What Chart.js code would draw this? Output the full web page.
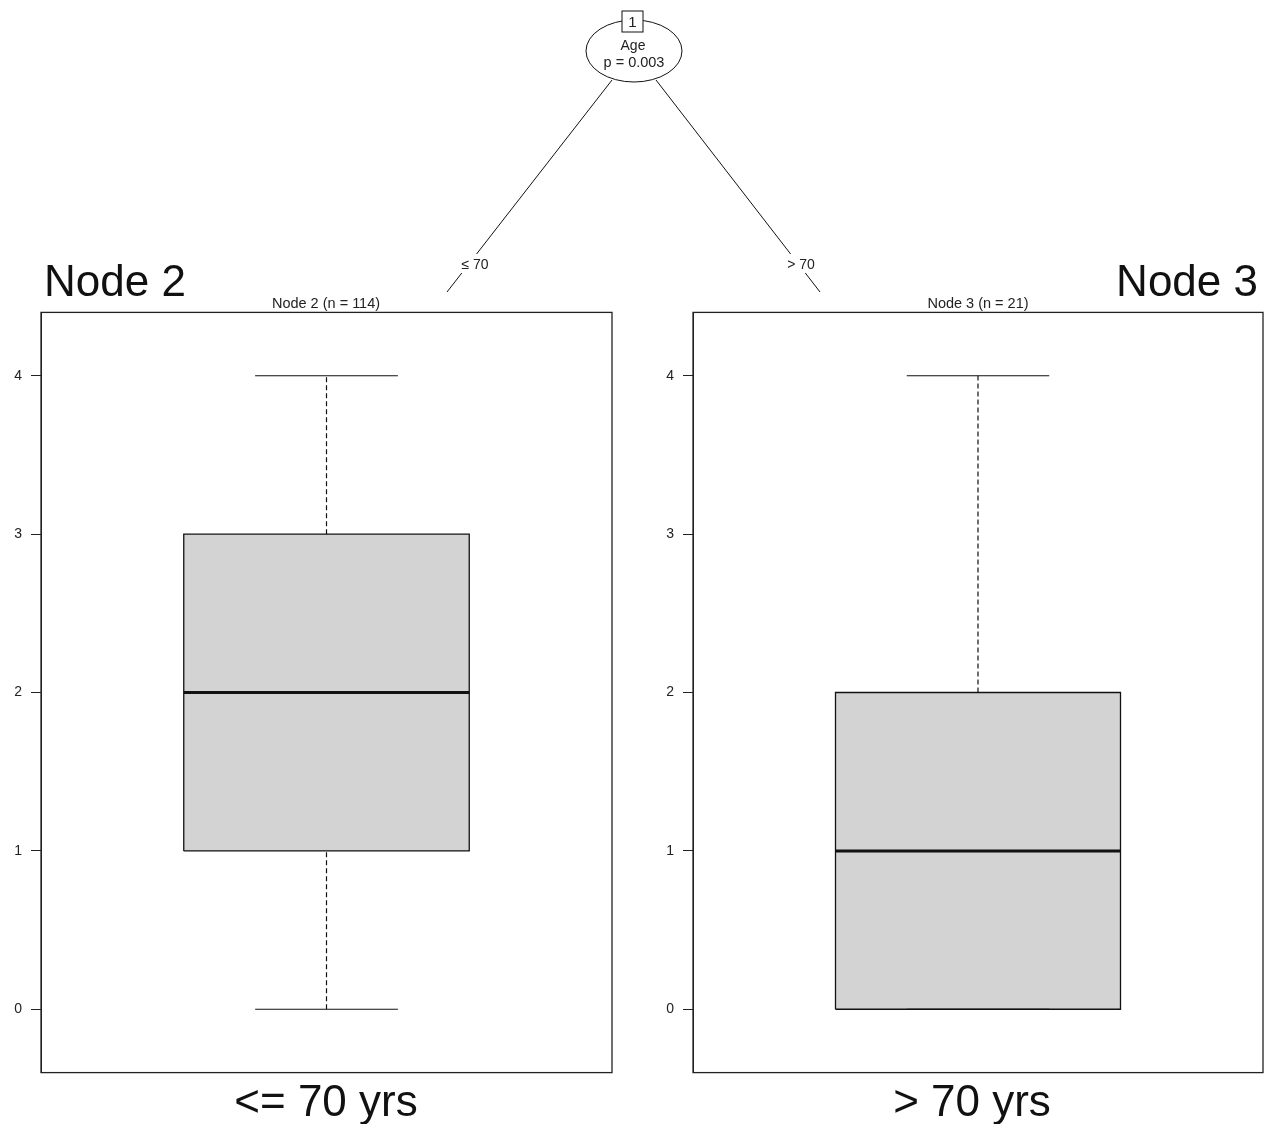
<!DOCTYPE html>
<html>
<head>
<meta charset="utf-8">
<script src="https://cdn.jsdelivr.net/npm/chart.js@4.4.0/dist/chart.umd.min.js"></script>
<style>
  html, body { margin: 0; padding: 0; background: #fff; overflow: hidden; width: 1266px; height: 1124px; }
  .abs { position: absolute; }
  .big { position: absolute; font-family: "Liberation Sans", Arial, sans-serif; font-size: 44px; color: #111; line-height: 1; white-space: nowrap; }
  .ttl { position: absolute; font-family: "Liberation Sans", Arial, sans-serif; font-size: 14.5px; color: #222; line-height: 1; white-space: nowrap; transform: translateX(-50%); }
</style>
</head>
<body>
<canvas id="c0" class="abs" width="620" height="795" style="left:0px;top:295px;width:620px;height:795px"></canvas>
<canvas id="c1" class="abs" width="614" height="795" style="left:652px;top:295px;width:614px;height:795px"></canvas>

<div class="big" style="left:44px;top:259px">Node 2</div>
<div class="big" style="right:8px;top:259px">Node 3</div>
<div id="t0" class="ttl" style="left:326px;top:296px"></div>
<div id="t1" class="ttl" style="left:978px;top:296px"></div>
<div id="g0" class="big" style="left:326px;top:1079px;transform:translateX(-50%)"></div>
<div id="g1" class="big" style="left:972px;top:1079px;transform:translateX(-50%)"></div>

<svg class="abs" style="left:0;top:0;pointer-events:none" width="1266" height="300" xmlns="http://www.w3.org/2000/svg">
  <g stroke="#111" stroke-width="1" fill="none">
    <line x1="612" y1="80" x2="447" y2="292"/>
    <line x1="656" y1="80" x2="820" y2="292"/>
    <ellipse cx="634" cy="51" rx="48" ry="31" fill="#fff"/>
    <rect x="622" y="11" width="21" height="21" fill="#fff"/>
  </g>
  <rect x="455" y="254" width="40" height="19" fill="#fff"/>
  <rect x="782" y="254" width="40" height="19" fill="#fff"/>
  <g font-family="Liberation Sans, Arial, sans-serif" font-size="14" fill="#222" text-anchor="middle">
    <text x="632.5" y="27" font-size="15" id="nodeId"></text>
    <text x="633" y="50" id="splitVar"></text>
    <text x="634" y="67" font-size="14.5" id="pval"></text>
    <text x="475" y="269" id="s0"></text>
    <text x="801" y="269" id="s1"></text>
  </g>
</svg>

<script>
// ---- data ----
const nodeNames = ['Node 2', 'Node 3'];
const nodeN = [114, 21];
const whiskerLow = [0, 0];
const q1 = [1, 0];
const median = [2, 1];
const q3 = [3, 2];
const whiskerHigh = [4, 4];
const yTicks = [0, 1, 2, 3, 4];
const splitVariable = 'Age';
const splitP = 'p = 0.003';
const rootId = '1';
const splitLabels = ['\u2264 70', '> 70'];
const groupLabels = ['<= 70 yrs', '> 70 yrs'];

document.getElementById('nodeId').textContent = rootId;
document.getElementById('splitVar').textContent = splitVariable;
document.getElementById('pval').textContent = splitP;
document.getElementById('s0').textContent = splitLabels[0];
document.getElementById('s1').textContent = splitLabels[1];

const borderPlugin = {
  id: 'panelBorder',
  afterDraw(chart) {
    const a = chart.chartArea, ctx = chart.ctx;
    ctx.save();
    ctx.strokeStyle = '#222';
    ctx.lineWidth = 1.3;
    ctx.strokeRect(a.left, a.top, a.right - a.left, a.bottom - a.top);
    ctx.restore();
  }
};

function seg(data, opts) {
  return Object.assign({ data, showLine: true, pointRadius: 0, borderColor: '#111', borderWidth: 1.2, fill: false, order: 0 }, opts || {});
}

function makePanel(i, padRight) {
  document.getElementById('t' + i).textContent = nodeNames[i] + ' (n = ' + nodeN[i] + ')';
  document.getElementById('g' + i).textContent = groupLabels[i];
  const datasets = [
    seg([{x: 0.25, y: q3[i]}, {x: 0.75, y: q3[i]}], { borderWidth: 0, fill: '+1', backgroundColor: '#d3d3d3', order: 10 }),
    seg([{x: 0.25, y: q1[i]}, {x: 0.75, y: q1[i]}], { borderWidth: 0, order: 10 }),
    seg([{x: 0.5, y: q3[i]}, {x: 0.5, y: whiskerHigh[i]}], { borderDash: [5, 3] }),
    seg([{x: 0.5, y: whiskerLow[i]}, {x: 0.5, y: q1[i]}], { borderDash: [5, 3] }),
    seg([{x: 0.375, y: whiskerHigh[i]}, {x: 0.625, y: whiskerHigh[i]}]),
    seg([{x: 0.375, y: whiskerLow[i]}, {x: 0.625, y: whiskerLow[i]}]),
    seg([{x: 0.25, y: q1[i]}, {x: 0.75, y: q1[i]}, {x: 0.75, y: q3[i]}, {x: 0.25, y: q3[i]}, {x: 0.25, y: q1[i]}], { borderWidth: 1.3 }),
    seg([{x: 0.25, y: median[i]}, {x: 0.75, y: median[i]}], { borderWidth: 3 })
  ];
  new Chart(document.getElementById('c' + i), {
    type: 'scatter',
    data: { datasets },
    plugins: [borderPlugin],
    options: {
      responsive: false,
      animation: false,
      events: [],
      layout: { padding: { left: 0, right: padRight, top: 12, bottom: 7 } },
      plugins: { legend: { display: false }, tooltip: { enabled: false }, filler: { drawTime: 'beforeDatasetsDraw' } },
      elements: { line: { tension: 0 } },
      scales: {
        x: { type: 'linear', min: 0, max: 1, display: false },
        y: {
          type: 'linear', min: -0.4, max: 4.4,
          afterBuildTicks: s => { s.ticks = yTicks.map(v => ({ value: v })); },
          afterFit: s => { s.width = 41; },
          grid: { drawOnChartArea: false, tickLength: 10, tickColor: '#222', tickWidth: 1 },
          border: { display: true, color: '#222', width: 1 },
          ticks: { padding: 9, color: '#222', font: { family: 'Liberation Sans', size: 14 } }
        }
      }
    }
  });
}
makePanel(0, 8);
makePanel(1, 3);
</script>
</body>
</html>
